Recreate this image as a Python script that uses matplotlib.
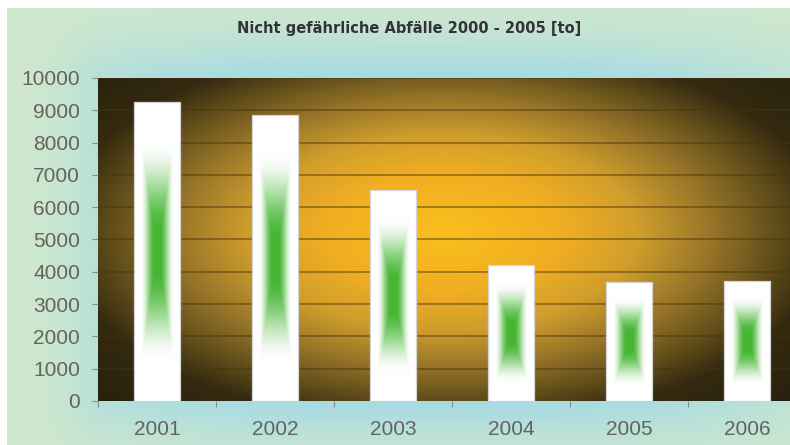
import numpy as np
import matplotlib.pyplot as plt
from matplotlib.colors import LinearSegmentedColormap, to_rgb

plt.rcParams['font.family'] = ['Liberation Sans', 'DejaVu Sans']

# data
years = ['2001', '2002', '2003', '2004', '2005', '2006']
tonnes = [9250, 8850, 6530, 4200, 3680, 3710]
y_ticks = list(range(0, 10001, 1000))
title = 'Nicht gefährliche Abfälle 2000 - 2005 [to]'

W, H = 790, 445
fig = plt.figure(figsize=(W / 100, H / 100), dpi=100)
fig.patch.set_facecolor('white')

# plot area in pixels
px0, px1, py_top, py_bot = 98, 790, 78, 401

# --- pale green backdrop, light blue haze round the plot (white strip top/left) ---
bg = fig.add_axes([0, 0, 1, 1], zorder=0)
bg.set_axis_off()
xx, yy = np.meshgrid(np.arange(W) + 0.5, np.arange(H) + 0.5)
dx = np.maximum(np.maximum(px0 - xx, xx - px1), 0)
dy = np.maximum(np.maximum(py_top - yy, yy - py_bot), 0)
dist = np.sqrt(dx ** 2 + dy ** 2)
w = np.exp(-(dist / 42.0) ** 1.5) * np.exp(-((xx - 420) / 380) ** 4)
c_green = np.array(to_rgb('#d0e8cd'))
c_blue = np.array(to_rgb('#a7dbe3'))
img = c_green * (1 - w[..., None]) + c_blue * w[..., None]
img[:8, :] = 1.0
img[:, :7] = 1.0
bg.imshow(img, extent=(0, 1, 0, 1), aspect='auto', origin='upper')
bg.set_xlim(0, 1)
bg.set_ylim(0, 1)

# --- main axes, runs off the right edge like the original ---
ax = fig.add_axes([px0 / W, (H - py_bot) / H, (px1 - px0) / W, (py_bot - py_top) / H],
                  zorder=1)

# radial yellow-to-dark glow for the plot area
PX, PY = np.meshgrid(np.linspace(0, 1, 400), np.linspace(0, 1, 300))
d = np.sqrt(((PX - 0.50) / 0.56) ** 2 + ((PY - 0.52) / 0.60) ** 2)
glow = LinearSegmentedColormap.from_list(
    'glow', [(0, '#f9bf1d'), (0.3 / 1.4, '#f1ae22'), (0.5 / 1.4, '#d09e2c'),
             (0.7 / 1.4, '#957328'), (0.85 / 1.4, '#64501b'),
             (1.0 / 1.4, '#342a10'), (1.0, '#201b0b')])
ax.imshow(np.clip(d, 0, 1.4), cmap=glow, vmin=0, vmax=1.4, origin='lower',
          extent=(0, 1, 0, 1), transform=ax.transAxes, aspect='auto', zorder=0)

x = np.arange(len(years))
width = 0.39
bars = ax.bar(x, tonnes, width=width, facecolor='none', edgecolor='#d4d4d4',
              linewidth=0.9, zorder=4)

# white bars with a soft green "from centre" gradient (hourglass look)
green = np.array(to_rgb('#45b532'))
u, v = np.meshgrid(np.linspace(-1, 1, 80), np.linspace(-1, 1, 240))
t = np.maximum(np.abs(u) * 1.05, np.abs(v))
s = np.clip((0.74 - t) / 0.62, 0, 1)
g = s * s * (3 - 2 * s)
# soften the diagonal corners a bit
g = 0.75 * g + 0.25 * np.convolve(g.ravel(), np.ones(5) / 5, mode='same').reshape(g.shape)
fill = 1.0 * (1 - g[..., None]) + green * g[..., None]
for b in bars:
    bx, bw, bh = b.get_x(), b.get_width(), b.get_height()
    ax.imshow(fill, origin='lower', extent=(bx, bx + bw, 0, bh),
              aspect='auto', zorder=3, interpolation='bicubic')

for yv in y_ticks[1:]:
    ax.axhline(yv, color='#4a3408', alpha=0.5, lw=1.3, zorder=2)

ax.set_xlim(-0.5, -0.5 + (px1 - px0) / 118)
ax.set_ylim(0, 10000)
ax.set_yticks(y_ticks)
ax.set_xticks(x)
ax.set_xticklabels(years)
ax.set_xticks(np.arange(len(years)) - 0.5, minor=True)
for s_ in ax.spines.values():
    s_.set_visible(False)

ax.tick_params(axis='y', length=4, width=0.8, color='#8a8a8a', pad=9,
               labelsize=15, labelcolor='#636363')
ax.tick_params(axis='x', which='major', length=0, pad=14,
               labelsize=15, labelcolor='#636363')
ax.tick_params(axis='x', which='minor', length=4, width=0.8, color='#8a8a8a')

fig.text(0.5 + 14 / W, 1 - 29 / H, title, ha='center', va='center',
         fontsize=10.5, fontweight='bold', color='#333333', family='DejaVu Sans')

fig.savefig('out.png', dpi=100)
